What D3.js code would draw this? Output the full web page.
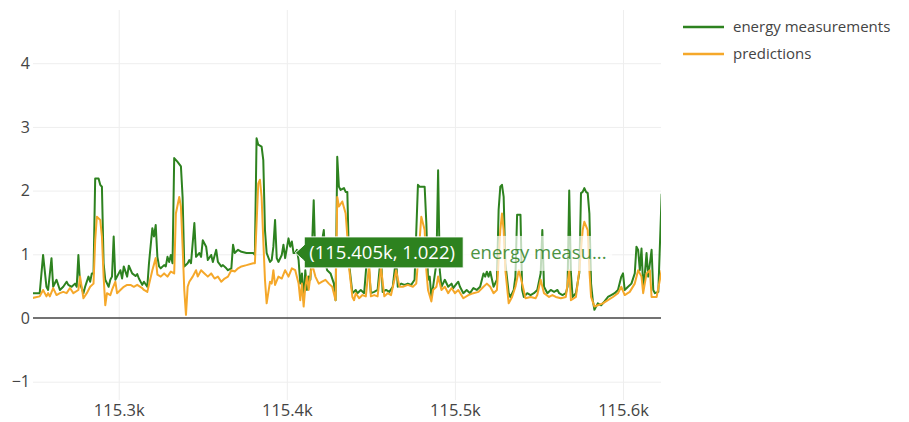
<!DOCTYPE html>
<html><head><meta charset="utf-8">
<script src="https://cdn.jsdelivr.net/npm/d3@7"></script>
<style>body{margin:0;background:#fff}svg{display:block}text{font-family:"Open Sans",sans-serif}</style>
</head><body><svg id="c" width="909" height="422"></svg>
<script>
const xTicks = [115300, 115400, 115500, 115600];
const xTickLabels = ["115.3k", "115.4k", "115.5k", "115.6k"];
const yTicks = [-1, 0, 1, 2, 3, 4];
const yTickLabels = ["−1", "0", "1", "2", "3", "4"];
const seriesNames = ["energy measurements", "predictions"];

const energyX = [115248,115253,115255,115257,115258,115260,115261,115263,115265,115267,115269,115270,115272,115274,115275,115276,115277,115279,115280,115282,115283,115284,115285,115286,115288,115289,115290,115291,115292,115294,115295,115296,115297,115298,115299,115301,115302,115303,115305,115306,115308,115310,115311,115312,115314,115315,115317,115318,115320,115321,115322,115323,115324,115325,115327,115328,115329,115330,115331,115332,115333,115335,115337,115338,115339,115341,115342,115343,115345,115346,115348,115349,115350,115352,115353,115355,115356,115358,115359,115361,115362,115364,115365,115367,115368,115369,115371,115373,115376,115380,115381,115382,115383,115385,115386,115387,115388,115390,115391,115392,115393,115394,115395,115397,115398,115399,115401,115402,115403,115404,115405,115406,115407,115408,115409,115410,115411,115412,115413,115414,115415,115416,115417,115418,115420,115421,115422,115423,115424,115426,115428,115429,115430,115431,115432,115434,115435,115436,115437,115439,115441,115442,115444,115446,115448,115450,115452,115454,115456,115457,115459,115461,115463,115465,115466,115468,115470,115472,115474,115476,115478,115479,115482,115483,115484,115485,115486,115487,115489,115490,115491,115492,115494,115496,115498,115499,115501,115502,115503,115505,115507,115509,115511,115513,115515,115517,115518,115519,115520,115521,115523,115525,115526,115527,115528,115529,115530,115532,115533,115535,115536,115537,115539,115540,115541,115543,115545,115547,115549,115551,115552,115553,115555,115557,115559,115561,115562,115564,115566,115567,115568,115569,115570,115572,115574,115575,115576,115577,115578,115579,115580,115581,115582,115583,115585,115587,115589,115591,115593,115595,115597,115599,115600,115601,115603,115605,115607,115608,115609,115610,115611,115612,115613,115614,115615,115617,115618,115619,115621,115623];
const energyY = [0.39,0.39,0.99,0.49,0.44,0.94,0.49,0.60,0.44,0.49,0.57,0.52,0.49,0.54,0.49,0.99,0.54,0.39,0.49,0.65,0.57,0.70,0.70,2.19,2.19,2.09,2.06,0.86,0.60,0.49,0.60,0.65,1.28,0.60,0.65,0.75,0.62,0.81,0.65,0.82,0.70,0.66,0.69,0.62,0.52,0.57,0.49,0.86,1.41,1.28,1.46,0.96,0.81,0.78,0.83,0.81,0.96,0.88,0.99,0.86,2.51,2.45,2.38,1.90,0.81,0.86,0.91,0.86,1.49,0.96,1.02,0.96,1.22,1.12,0.91,0.99,0.88,1.07,0.88,0.81,0.83,0.78,0.75,0.78,1.15,1.02,1.07,1.04,1.02,1.02,0.99,2.82,2.72,2.69,2.48,1.38,1.02,0.88,0.91,1.12,1.54,0.94,0.88,0.99,1.15,0.94,1.25,1.12,1.20,1.02,1.022,1.07,0.91,0.54,0.70,0.28,0.75,0.44,0.65,0.60,1.12,1.85,0.86,0.91,0.88,1.22,1.38,0.86,0.75,0.70,0.54,0.28,2.53,2.06,2.01,2.04,1.98,1.98,0.86,0.39,0.44,0.39,0.44,0.39,1.05,0.39,0.41,0.44,1.00,0.41,0.44,0.41,0.49,0.95,0.49,0.54,0.52,0.54,0.52,0.60,2.09,2.06,2.06,1.49,0.60,0.65,0.33,0.49,0.86,2.32,0.75,0.49,0.60,0.49,0.54,0.47,0.54,0.57,0.49,0.39,0.44,0.39,0.47,0.44,0.49,0.70,0.65,0.73,0.65,0.73,0.49,0.60,1.70,2.06,2.09,1.90,0.86,0.39,0.33,0.44,0.65,1.62,1.62,0.44,0.33,0.39,0.36,0.39,0.44,0.70,1.38,0.49,0.39,0.44,0.41,0.44,0.39,0.36,0.39,0.49,2.00,0.70,0.33,0.39,0.71,1.96,1.98,2.04,1.98,1.96,1.64,0.54,0.28,0.13,0.23,0.20,0.26,0.33,0.36,0.39,0.44,0.65,0.70,0.44,0.49,0.54,0.70,1.12,1.07,0.75,1.09,0.49,0.70,1.02,0.65,1.07,0.44,0.39,0.41,1.95];

const predX = [115248,115253,115255,115257,115258,115259,115261,115263,115265,115267,115269,115271,115273,115276,115277,115279,115281,115283,115285,115286,115287,115289,115290,115291,115292,115293,115295,115296,115298,115299,115301,115303,115305,115307,115309,115311,115314,115315,115317,115320,115322,115323,115325,115327,115329,115331,115333,115334,115336,115337,115338,115339,115340,115341,115342,115344,115346,115347,115349,115351,115353,115355,115357,115359,115361,115363,115365,115367,115369,115371,115373,115376,115380,115381,115383,115384,115385,115386,115387,115388,115390,115391,115392,115393,115395,115397,115399,115401,115403,115405,115407,115408,115409,115410,115411,115412,115413,115414,115415,115417,115419,115421,115423,115425,115427,115429,115430,115431,115433,115435,115436,115437,115439,115440,115441,115443,115445,115447,115449,115450,115452,115454,115456,115458,115460,115462,115464,115465,115467,115469,115472,115475,115477,115479,115480,115482,115483,115484,115486,115487,115489,115490,115492,115494,115496,115498,115500,115502,115505,115508,115511,115514,115517,115519,115521,115523,115525,115527,115528,115529,115530,115532,115534,115536,115538,115540,115542,115545,115548,115549,115551,115553,115556,115558,115560,115563,115566,115568,115569,115572,115574,115576,115577,115579,115580,115581,115583,115585,115588,115591,115594,115597,115599,115601,115604,115607,115609,115611,115612,115614,115616,115617,115620,115623];
const predY = [0.31,0.34,0.44,0.34,0.39,0.34,0.47,0.36,0.39,0.41,0.39,0.47,0.39,0.44,0.65,0.31,0.39,0.49,0.54,1.22,1.59,1.54,1.28,0.65,0.20,0.39,0.36,0.44,0.57,0.39,0.44,0.49,0.52,0.52,0.49,0.52,0.47,0.44,0.41,0.75,0.94,0.68,0.65,0.70,0.65,0.73,0.70,1.64,1.90,1.75,1.12,0.44,0.05,0.49,0.57,0.65,0.75,0.65,0.75,0.70,0.65,0.70,0.62,0.65,0.57,0.62,0.65,0.75,0.73,0.78,0.81,0.83,0.86,0.86,2.11,2.17,1.90,1.22,0.60,0.23,0.57,0.54,0.75,0.52,0.65,0.62,0.75,0.65,0.78,0.75,0.54,0.28,0.54,0.18,0.49,0.65,0.44,0.65,0.85,0.65,0.54,0.57,0.60,0.54,0.49,0.28,1.90,1.75,1.83,1.64,1.28,0.80,0.33,0.28,0.39,0.31,0.36,0.34,0.85,0.34,0.36,0.34,0.80,0.34,0.39,0.36,0.60,0.75,0.49,0.49,0.52,0.49,0.54,1.22,1.59,1.38,0.75,0.44,0.26,0.44,0.49,0.65,0.44,0.49,0.39,0.47,0.39,0.44,0.31,0.36,0.39,0.41,0.49,0.54,0.49,0.39,0.44,1.38,1.64,1.38,0.75,0.23,0.33,0.49,0.75,0.54,0.31,0.33,0.31,0.36,0.60,0.39,0.33,0.36,0.33,0.31,0.33,0.75,0.28,0.33,0.75,1.38,1.51,1.38,0.75,0.33,0.18,0.20,0.23,0.28,0.33,0.39,0.49,0.36,0.41,0.54,0.75,0.65,0.39,0.70,0.75,0.33,0.33,0.75];

const hoverX = 115405, hoverY = 1.022;
const colors = ["#2d821f", "#f5a82a"];

const svg = d3.select("#c");
const L = 33, R = 661, T = 10, B = 400;
const x = d3.scaleLinear().domain([115249, 115622.6]).range([L, R]);
const y = d3.scaleLinear().domain([-1.287, 4.835]).range([B, T]);

const gx = svg.append("g").attr("transform", `translate(0,${B})`)
  .call(d3.axisBottom(x).tickValues(xTicks).tickSize(-(B - T)).tickFormat((d, i) => xTickLabels[i]));
gx.select(".domain").remove();
gx.selectAll("line").attr("stroke", "#eee");
gx.selectAll("text").attr("fill", "#444").attr("font-size", 16.5).attr("dy", 0).attr("y", 16);

const gy = svg.append("g").attr("transform", `translate(${L},0)`)
  .call(d3.axisLeft(y).tickValues(yTicks).tickSize(-(R - L)).tickFormat((d, i) => yTickLabels[i]));
gy.select(".domain").remove();
gy.selectAll("line").attr("stroke", d => d === 0 ? "none" : "#eee");
gy.selectAll("text").attr("fill", "#444").attr("font-size", 16).attr("x", -3);

svg.append("line").attr("x1", L).attr("x2", R).attr("y1", y(0)).attr("y2", y(0))
  .attr("stroke", "#444").attr("stroke-width", 1.5);

svg.append("clipPath").attr("id", "clip").append("rect")
  .attr("x", L).attr("y", T).attr("width", R - L).attr("height", B - T);

const line = d3.line().x(d => x(d[0])).y(d => y(d[1]));
const plot = svg.append("g").attr("clip-path", "url(#clip)");
const energy = energyX.map((v, i) => [v, energyY[i]]);
const pred = predX.map((v, i) => [v, predY[i]]);
plot.append("path").datum(energy).attr("d", line).attr("fill", "none")
  .attr("stroke", colors[0]).attr("stroke-width", 2).attr("stroke-linejoin", "round");
plot.append("path").datum(pred).attr("d", line).attr("fill", "none")
  .attr("stroke", colors[1]).attr("stroke-width", 2).attr("stroke-linejoin", "round");

// legend
const lg = svg.append("g");
seriesNames.forEach((n, i) => {
  const yy = 27 + i * 27;
  lg.append("line").attr("x1", 683).attr("x2", 724).attr("y1", yy).attr("y2", yy)
    .attr("stroke", colors[i]).attr("stroke-width", 2.5);
  lg.append("text").attr("x", 733).attr("y", yy).attr("dy", "0.35em")
    .attr("fill", "#444").attr("font-size", 15).text(n);
});

// hover label
const hx = x(hoverX), hy = y(hoverY);
const hg = svg.append("g");
hg.append("rect").attr("x", hx + 168).attr("y", hy - 17).attr("width", 149).attr("height", 35)
  .attr("fill", "#fff").attr("opacity", 0.7);
hg.append("path").attr("d", `M${hx},${hy} L${hx + 9},${hy - 8} V${hy - 16} H${hx + 168} V${hy + 15} H${hx + 9} V${hy + 8} Z`)
  .attr("fill", colors[0]).attr("stroke", "#fff").attr("stroke-width", 1);
hg.append("text").attr("x", hx + 14).attr("y", hy).attr("dy", "0.35em").attr("fill", "#fff")
  .attr("font-size", 18.5).text(`(${(hoverX / 1000).toFixed(3)}k, ${hoverY.toFixed(3)})`);
hg.append("text").attr("x", hx + 175).attr("y", hy).attr("dy", "0.35em").attr("fill", colors[0])
  .attr("opacity", 0.85).attr("font-size", 18.5).text(seriesNames[0].slice(0, 12) + "...");
</script></body></html>
